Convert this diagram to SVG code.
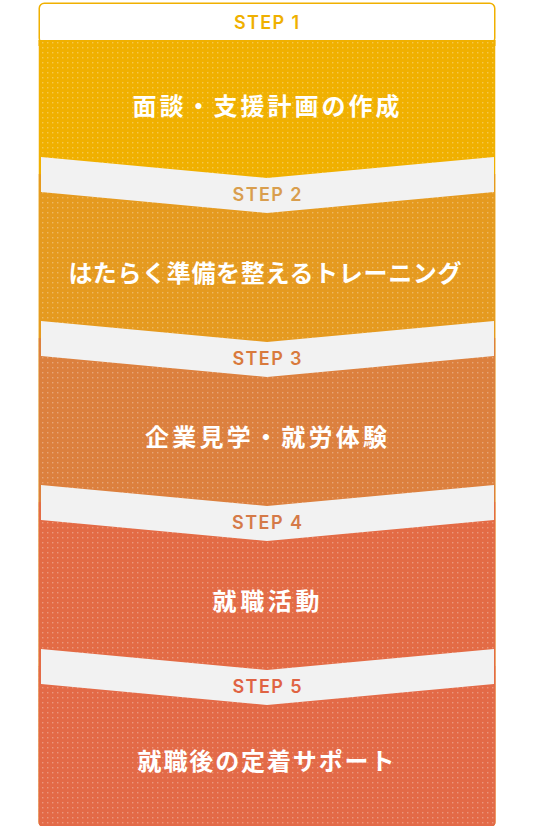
<svg xmlns="http://www.w3.org/2000/svg" width="535" height="839" viewBox="0 0 535 839">
<defs>
<pattern id="dots" width="5" height="5" patternUnits="userSpaceOnUse">
<rect x="2" y="2" width="1.4" height="1.4" fill="#ffffff" fill-opacity="0.3"/>
</pattern>
<clipPath id="box"><rect x="38.5" y="3" width="457" height="823" rx="4"/></clipPath>
<style>
.band{fill:#f2f2f2}
.step{font-family:"Inter","Open Sans",sans-serif;font-weight:600;font-size:18px;text-anchor:middle}
.title{font-family:"Noto Sans CJK JP",sans-serif;font-weight:700;font-size:24px;fill:#ffffff;text-anchor:middle}
</style>
</defs>
<rect width="535" height="839" fill="#ffffff"/>
<g clip-path="url(#box)">
<g id="step1">
<rect x="38.5" y="40" width="457" height="800" fill="#f0b000"/>
<rect x="38.5" y="40" width="457" height="800" fill="url(#dots)"/>
</g>
<g id="step2">
<path d="M38.5,174 L267,195 L495.5,174 V840 H38.5 Z" fill="#e59a1f"/>
<path d="M38.5,174 L267,195 L495.5,174 V840 H38.5 Z" fill="url(#dots)"/>
</g>
<g id="step3">
<path d="M38.5,338 L267,359 L495.5,338 V840 H38.5 Z" fill="#dc803e"/>
<path d="M38.5,338 L267,359 L495.5,338 V840 H38.5 Z" fill="url(#dots)"/>
</g>
<g id="step4">
<path d="M38.5,502 L267,523 L495.5,502 V840 H38.5 Z" fill="#e36b45"/>
<path d="M38.5,502 L267,523 L495.5,502 V840 H38.5 Z" fill="url(#dots)"/>
</g>
<g id="step5">
<path d="M38.5,666 L267,687 L495.5,666 V840 H38.5 Z" fill="#e36a47"/>
<path d="M38.5,666 L267,687 L495.5,666 V840 H38.5 Z" fill="url(#dots)"/>
</g>
</g>
<g id="header">
<rect x="39.25" y="3.25" width="455.5" height="40" rx="5" fill="#ffffff" stroke="#f0b000" stroke-width="1.5"/>
<rect x="38.5" y="40" width="457" height="6" fill="#f0b000"/>
<rect x="38.5" y="40" width="457" height="6" fill="url(#dots)"/>
</g>
<g id="connectors">
<polygon class="band" points="41,157 267,178 494,157 494,192 267,213 41,192"/>
<polygon class="band" points="41,321 267,342 494,321 494,356 267,377 41,356"/>
<polygon class="band" points="41,485 267,506 494,485 494,520 267,541 41,520"/>
<polygon class="band" points="41,649 267,670 494,649 494,684 267,705 41,684"/>
</g>
<g id="labels">
<text class="step" x="266.5" y="29" fill="#efb000" textLength="65">STEP 1</text>
<text class="step" x="267" y="201" fill="#d99e4e" textLength="69">STEP 2</text>
<text class="step" x="267" y="365" fill="#d97a3c" textLength="69">STEP 3</text>
<text class="step" x="267" y="529" fill="#d57a48" textLength="70">STEP 4</text>
<text class="step" x="267" y="693" fill="#e06343" textLength="69">STEP 5</text>
<text class="title" x="266" y="115" textLength="267">面談・支援計画の作成</text>
<text class="title" x="265" y="282" textLength="393">はたらく準備を整えるトレーニング</text>
<text class="title" x="266" y="446" textLength="242">企業見学・就労体験</text>
<text class="title" x="266" y="610" textLength="107">就職活動</text>
<text class="title" x="266" y="770" textLength="257">就職後の定着サポート</text>
</g>
</svg>
